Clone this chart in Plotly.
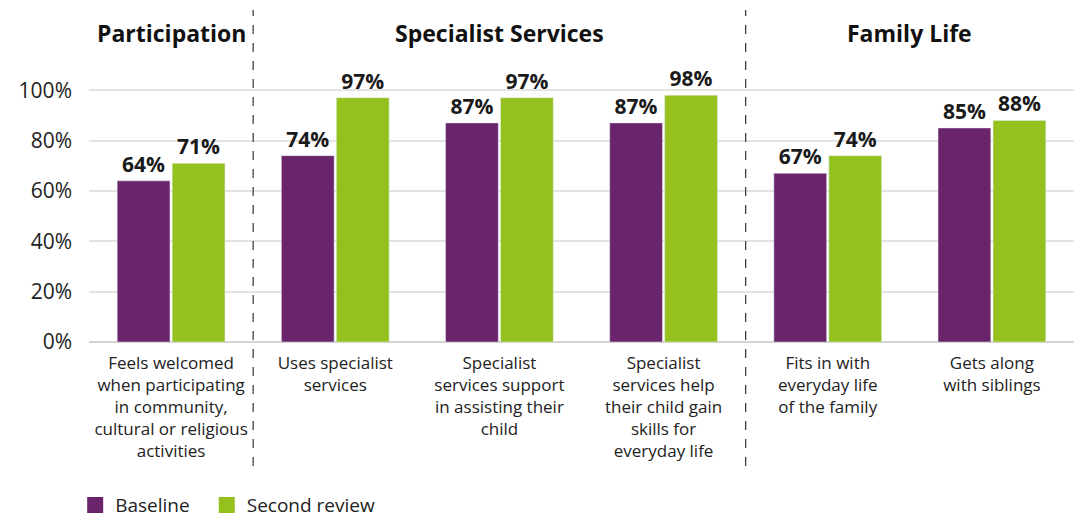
import plotly.graph_objects as go

categories = [
    "Feels welcomed<br>when participating<br>in community,<br>cultural or religious<br>activities",
    "Uses specialist<br>services",
    "Specialist<br>services support<br>in assisting their<br>child",
    "Specialist<br>services help<br>their child gain<br>skills for<br>everyday life",
    "Fits in with<br>everyday life<br>of the family",
    "Gets along<br>with siblings",
]
baseline = [64, 74, 87, 87, 67, 85]
second_review = [71, 97, 97, 98, 74, 88]
series_names = ["Baseline", "Second review"]
groups = ["Participation", "Specialist Services", "Family Life"]
group_centers = [0, 2, 4.5]
separators = [0.5, 3.5]
y_ticks = [0, 20, 40, 60, 80, 100]

FONT = "Open Sans"
PURPLE = "#6a246c"
GREEN = "#95c11f"
colors = [PURPLE, GREEN]
legend_ids = ["legend", "legend2"]
legend_x = [0.07, 0.1925]

xs = list(range(len(categories)))
fig = go.Figure()
for name, vals, col in zip(series_names, [baseline, second_review], colors):
    fig.add_trace(go.Bar(
        x=xs, y=vals, name=name, marker_color=col, showlegend=False,
        text=[f"{v}%" for v in vals], textposition="outside",
        textfont=dict(family=FONT, size=21, color="#1a1a1a", weight="bold"),
        cliponaxis=False,
    ))
for name, col, lid in zip(series_names, colors, legend_ids):
    fig.add_trace(go.Scatter(
        x=[None], y=[None], mode="markers", name=name, legend=lid,
        marker=dict(symbol="square", size=18, color=col),
    ))

shapes = []
for s in separators:
    shapes.append(dict(type="line", xref="x", yref="paper", x0=s, x1=s,
                       y0=-0.448, y1=1.199,
                       line=dict(color="#333333", width=1.2, dash="dash")))

annotations = []
for g, c in zip(groups, group_centers):
    annotations.append(dict(x=c, y=1.115, xref="x", yref="paper", text=f"<b>{g}</b>",
                            showarrow=False, font=dict(family=FONT, size=23, color="#111111"),
                            xanchor="center", yanchor="middle"))

legend_style = dict(orientation="h", xref="container", yref="container",
                    y=0.025, xanchor="left", yanchor="middle",
                    font=dict(family=FONT, size=19, color="#222222"),
                    itemwidth=30, tracegroupgap=0, bgcolor="rgba(0,0,0,0)")

fig.update_layout(
    width=1074, height=518,
    margin=dict(l=89, r=0, t=65, b=176, autoexpand=False),
    plot_bgcolor="white", paper_bgcolor="white",
    barmode="group", bargap=0.33, bargroupgap=0.04,
    font=dict(family=FONT, color="#222222"),
    shapes=shapes, annotations=annotations,
    showlegend=True,
    legend=dict(x=legend_x[0], **legend_style),
    legend2=dict(x=legend_x[1], **legend_style),
    xaxis=dict(tickmode="array", tickvals=xs, ticktext=categories,
               tickfont=dict(family=FONT, size=17, color="#222222"),
               ticklabelstandoff=9,
               range=[-0.5, 5.5], showgrid=False, ticks="", showline=False),
    yaxis=dict(range=[0, 110], tickvals=y_ticks, ticktext=[f"{v}%" for v in y_ticks],
               tickfont=dict(family=FONT, size=21, color="#222222"),
               showgrid=True, gridcolor="#e3e3e3", gridwidth=1.5,
               zeroline=True, zerolinecolor="#d3d3d3", zerolinewidth=1.5,
               ticklabelstandoff=16),
)

fig.write_html("out.html", config={"displayModeBar": False},
               post_script="document.body.style.margin='0';document.body.style.overflow='hidden';")
